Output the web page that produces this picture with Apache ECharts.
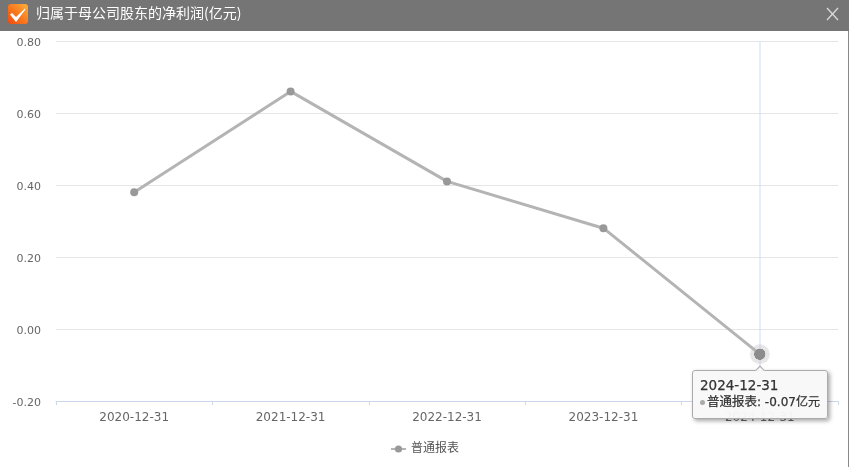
<!DOCTYPE html>
<html><head><meta charset="utf-8">
<style>html,body{margin:0;padding:0;background:#fff}#c{width:849px;height:467px}</style>
<script src="https://cdn.jsdelivr.net/npm/echarts@6/dist/echarts.min.js"></script>
</head><body><div id="c"></div>
<script>
const titleText = '归属于母公司股东的净利润(亿元)';
const seriesName = '普通报表';
const unit = '亿元';
const categories = ['2020-12-31','2021-12-31','2022-12-31','2023-12-31','2024-12-31'];
const values = [0.38,0.66,0.41,0.28,-0.07];
const activeIndex = 4;
const FONT = '"DejaVu Sans","Noto Sans CJK SC",sans-serif';
const chart = echarts.init(document.getElementById('c'),null,{renderer:'canvas'});
const halo = new echarts.graphic.RadialGradient(0.5,0.5,0.5,[
  {offset:0,color:'#8c8c8c'},{offset:0.54,color:'#8c8c8c'},{offset:0.58,color:'rgba(180,180,180,0.35)'},{offset:1,color:'rgba(180,180,180,0.3)'}]);
chart.setOption({
  animation:false,
  backgroundColor:'#fff',
  grid:{left:56,right:11,top:41,bottom:66},
  legend:{data:[seriesName],left:'center',top:438,itemWidth:15,itemHeight:9,itemGap:6,
    textStyle:{color:'#555',fontSize:12,fontFamily:FONT},selectedMode:false},
  tooltip:{trigger:'item',position:'bottom',alwaysShowContent:true,
    backgroundColor:'rgba(248,248,248,0.96)',borderColor:'#aaa',borderWidth:1,padding:[7,7,8,7],
    extraCssText:'box-shadow:2px 2px 4px rgba(0,0,0,.35);border-radius:3px;margin-top:-4px;margin-left:0px;',
    textStyle:{color:'#333',fontSize:12,fontFamily:FONT},
    formatter:p=>`<div style="line-height:15px;font-size:12px;color:#333;white-space:nowrap;-webkit-text-stroke:0.25px #333"><span style="font-size:13.5px">${p.name}</span><br><span style="display:inline-block;width:5px;height:5px;border-radius:50%;background:#aaa;vertical-align:middle;margin-right:2px"></span><span style="font-size:12.5px">${p.seriesName}</span>: ${p.value.toFixed(2)}${unit}</div>`},
  xAxis:{type:'category',data:categories,boundaryGap:true,
    axisLine:{onZero:false,lineStyle:{color:'#ccd6eb',width:1}},
    axisTick:{show:true,length:4,lineStyle:{color:'#ccd6eb'}},
    axisLabel:{color:'#666',fontSize:12,fontFamily:FONT,margin:11},
    axisPointer:{show:true,status:'show',value:categories[activeIndex],type:'line',z:1,
      lineStyle:{color:'rgba(215,220,250,0.55)',width:2,type:'solid'},label:{show:false},triggerTooltip:false}},
  yAxis:{type:'value',min:-0.2,max:0.8,interval:0.2,
    axisLine:{show:false},axisTick:{show:false},
    splitLine:{lineStyle:{color:'#e6e6e6',width:1}},
    axisLabel:{color:'#666',fontSize:11,fontFamily:FONT,margin:15,
      formatter:v=>`{a|${v.toFixed(2)}}`,
      rich:{a:{color:'#666',fontSize:11,fontFamily:FONT,padding:[4,0,0,0]}}}},
  series:[{name:seriesName,type:'line',symbol:'circle',symbolSize:8,z:5,
    color:'#999',
    lineStyle:{color:'#b4b4b4',width:3},
    itemStyle:{color:'#999'},
    emphasis:{disabled:true},
    data:values.map((v,i)=>i===activeIndex?{value:v,symbolSize:20,itemStyle:{color:halo}}:v)}],
  graphic:[
    {type:'rect',left:0,top:0,z:50,shape:{width:849,height:31},style:{fill:'#757575'}},
    {type:'rect',left:848,top:31,z:50,shape:{width:1,height:436},style:{fill:'#8a8a8a'}},
    {type:'rect',left:8,top:4,z:51,shape:{width:20,height:20,r:3},
      style:{fill:new echarts.graphic.LinearGradient(1,0,0,1,[{offset:0,color:'#fbb03b'},{offset:0.5,color:'#f97a1e'},{offset:1,color:'#f2480c'}])}},
    {type:'polygon',z:52,shape:{points:[[10,14.5],[12,13],[16,17],[25.5,8],[25,10],[16,22]]},style:{fill:'#fff'}},
    {type:'text',left:36,top:6,z:52,style:{text:titleText,fill:'#fff',fontSize:14,fontFamily:'"Noto Sans CJK SC",sans-serif'}},
    {type:'polyline',z:52,shape:{points:[[827,8],[838,20]]},style:{stroke:'#ddd',lineWidth:1.2,fill:null}},
    {type:'polyline',z:52,shape:{points:[[838,8],[827,20]]},style:{stroke:'#ddd',lineWidth:1.2,fill:null}}
  ]
});
chart.dispatchAction({type:'showTip',seriesIndex:0,dataIndex:activeIndex});
</script></body></html>
